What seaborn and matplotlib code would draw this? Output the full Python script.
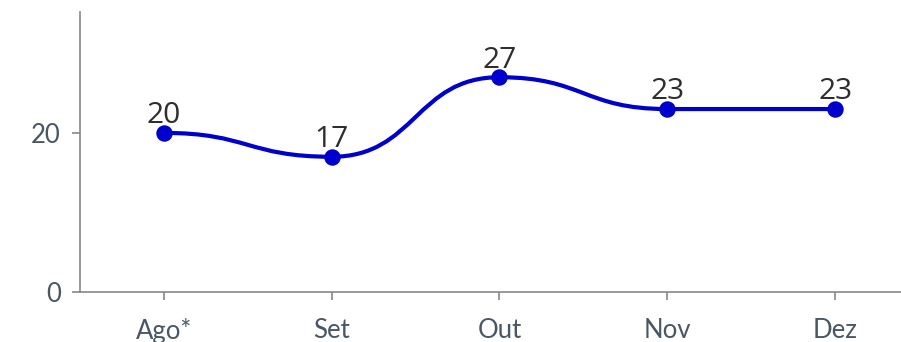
import matplotlib
matplotlib.use("Agg")
import matplotlib.pyplot as plt
from matplotlib.path import Path
from matplotlib.patches import PathPatch
import pandas as pd
import seaborn as sns

# data
months = ["Ago*", "Set", "Out", "Nov", "Dez"]
values = [20, 17, 27, 23, 23]
y_ticks = [0, 20]

LINE = "#0000cc"
AXIS = "#888888"
TICK_TEXT = "#4a5663"
LABEL_TEXT = "#2e2e2e"


def bump_path(xs, ys):
    """Smooth curve with horizontal tangents at every point (bump-x style)."""
    verts = [(xs[0], ys[0])]
    codes = [Path.MOVETO]
    for x0, y0, x1, y1 in zip(xs[:-1], ys[:-1], xs[1:], ys[1:]):
        xm = (x0 + x1) / 2
        verts += [(xm, y0), (xm, y1), (x1, y1)]
        codes += [Path.CURVE4] * 3
    return Path(verts, codes)


sns.set_theme(style="ticks")
plt.rcParams["font.family"] = ["Lato", "DejaVu Sans"]

df = pd.DataFrame({"month": months, "value": values})

fig = plt.figure(figsize=(9.01, 3.42), dpi=100)
ax = fig.add_axes([80 / 901, 50 / 342, 1 - 80 / 901, 280 / 342])

positions = list(range(len(months)))
ax.add_patch(PathPatch(bump_path(positions, values), fill=False,
                       edgecolor=LINE, lw=3.0, zorder=2))
sns.scatterplot(data=df, x="month", y="value", ax=ax, color=LINE,
                s=140, linewidth=0, zorder=3)

for i, v in enumerate(values):
    ax.annotate(str(v), (i, v), xytext=(0, 7), textcoords="offset points",
                ha="center", va="baseline", fontsize=21.5,
                family=["Open Sans", "DejaVu Sans"], color=LABEL_TEXT,
                zorder=4)

ax.set_xlim(-0.5, (901 - 163) / 168)
ax.set_ylim(0, 35.2)
ax.set_xticks(positions)
ax.set_xticklabels(months)
ax.set_yticks(y_ticks)
ax.set_xlabel("")
ax.set_ylabel("")

sns.despine(ax=ax)
for side in ("left", "bottom"):
    ax.spines[side].set_color(AXIS)
    ax.spines[side].set_linewidth(1.2)
ax.tick_params(axis="both", length=5.8, width=1.2, color=AXIS,
               labelsize=18.5, labelcolor=TICK_TEXT)
ax.tick_params(axis="y", pad=8)
ax.tick_params(axis="x", pad=13)

fig.savefig("out.png", dpi=100)
